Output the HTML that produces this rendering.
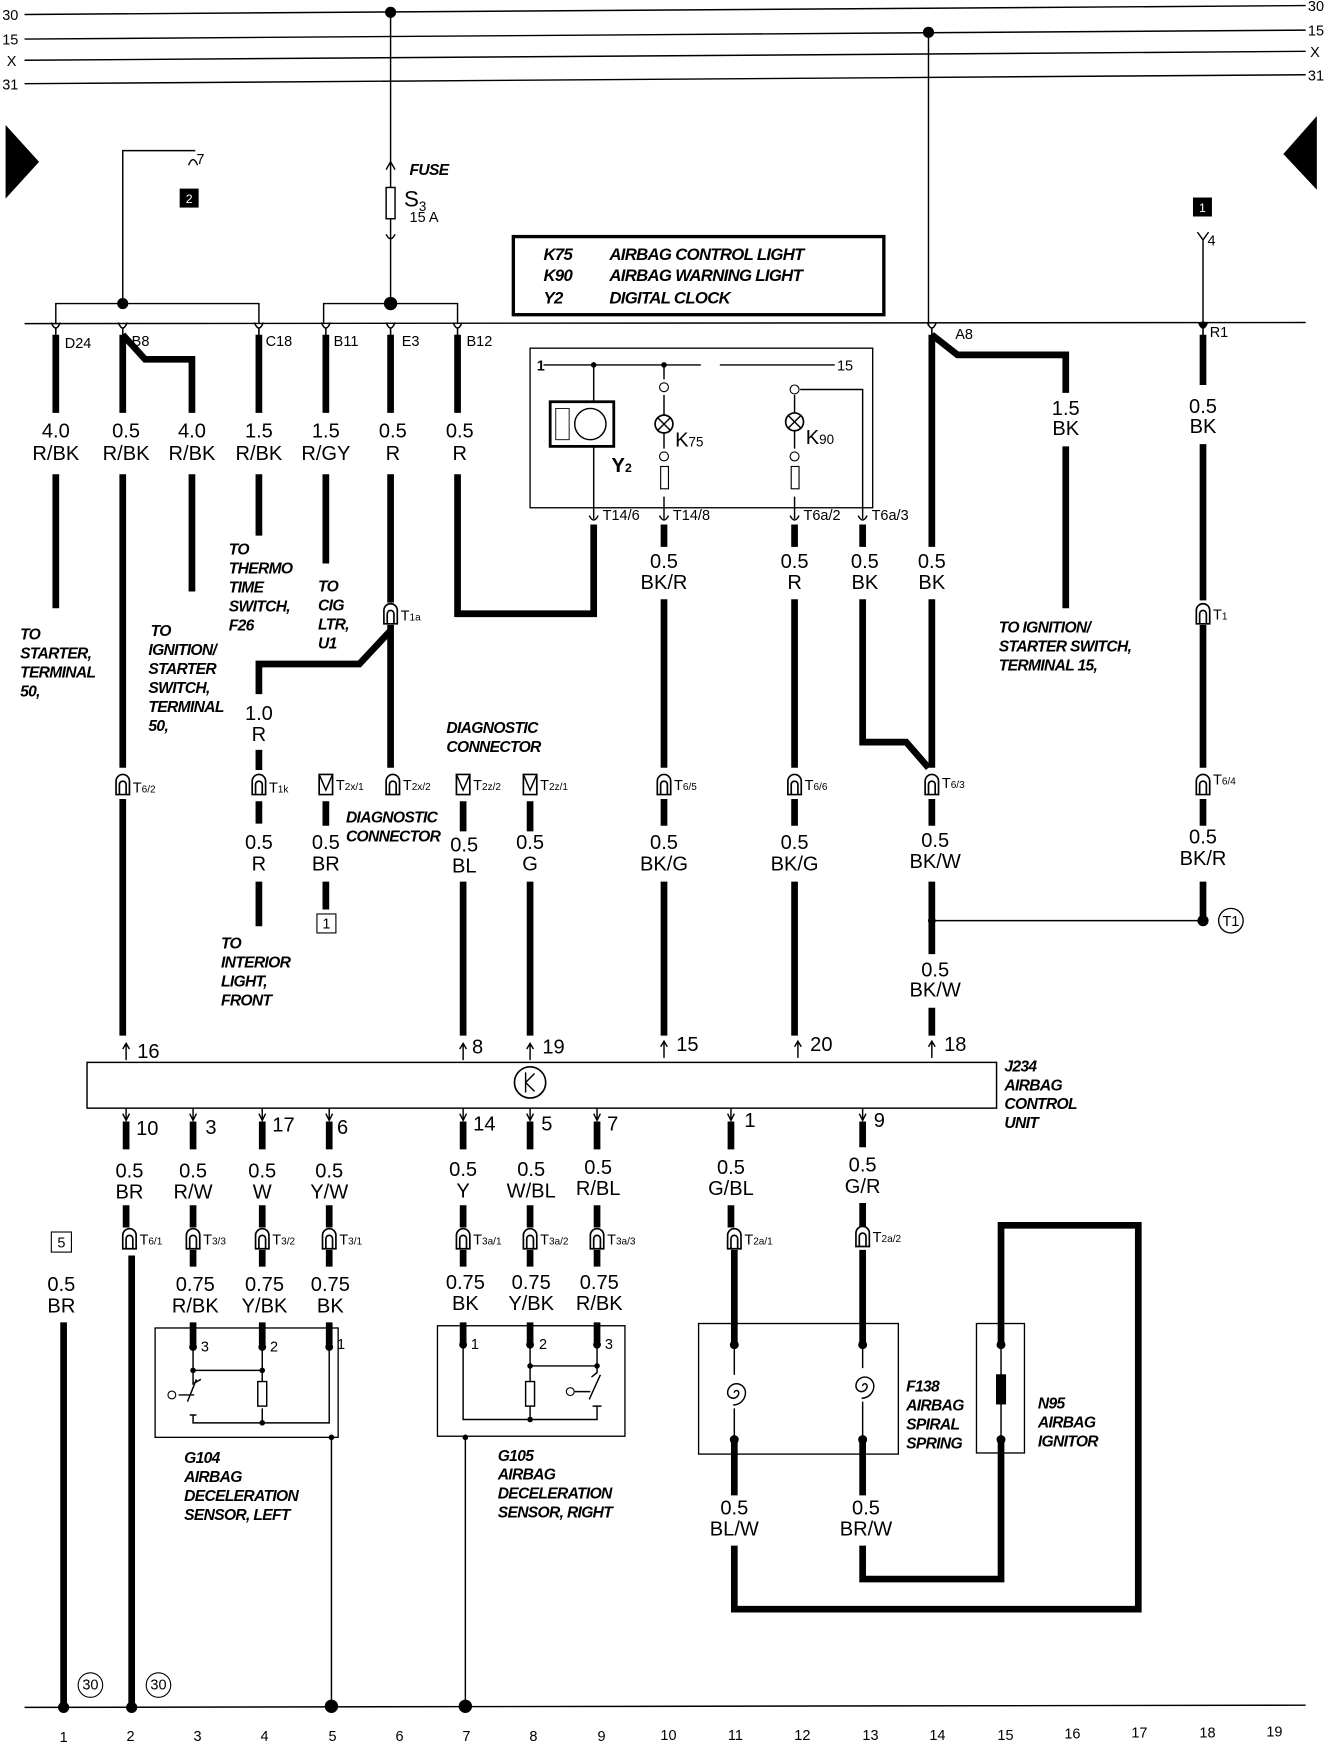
<!DOCTYPE html>
<html><head><meta charset="utf-8"><style>
html,body{margin:0;padding:0;background:#fff}
svg{display:block}
.w{font-family:"Liberation Sans",sans-serif;font-size:18px;text-anchor:middle;fill:#000}
.n{font-family:"Liberation Sans",sans-serif;font-size:14px;font-weight:bold;font-style:italic;fill:#000;letter-spacing:-0.6px}
.s{font-family:"Liberation Sans",sans-serif;font-size:13px;fill:#000}
.k{stroke:#000;stroke-width:6;fill:none}
.t{stroke:#000;stroke-width:1.3;fill:none}
</style></head><body>
<svg width="1328" height="1742" viewBox="0 0 1190 1561" preserveAspectRatio="none" xmlns="http://www.w3.org/2000/svg">
<defs>
<g id="tc"><path d="M-6,9 V-3 A6,6 0 0 1 6,-3 V9 Z" fill="#fff" stroke="#000" stroke-width="1.5"/><path d="M-3,9 V0 A3,3 0 0 1 3,0 V9" fill="none" stroke="#000" stroke-width="1.5"/></g>
<g id="tv"><path d="M-6,-9 V9 H6 V-9 Z" fill="#fff" stroke="#000" stroke-width="1.5"/><path d="M-6,-9 L0,5 L6,-9" fill="none" stroke="#000" stroke-width="1.3"/></g>
<g id="pu"><path d="M-4,-6 Q0,4 4,-6 M0,-1 V6" fill="none" stroke="#000" stroke-width="1.4"/></g>
<g id="ar"><path d="M0,8 V-6 M-3,-2 L0,-7 L3,-2" fill="none" stroke="#000" stroke-width="1.3"/></g>
</defs>
<g class="t" stroke-width="1.6">
<line x1="22" y1="13" x2="1170" y2="5"/>
<line x1="22" y1="35" x2="1170" y2="27"/>
<line x1="22" y1="54" x2="1170" y2="46"/>
<line x1="22" y1="75" x2="1170" y2="67"/>
</g>
<text class="s" x="2" y="18">30</text><text class="s" x="2" y="40">15</text><text class="s" x="6" y="59">X</text><text class="s" x="2" y="80">31</text>
<text class="s" x="1172" y="10">30</text><text class="s" x="1172" y="32">15</text><text class="s" x="1174" y="51">X</text><text class="s" x="1172" y="72">31</text>
<circle cx="350" cy="11" r="5"/><circle cx="832" cy="29" r="5"/>
<path d="M5,112 L35,145 L5,178 Z"/><path d="M1180,104 L1150,138 L1180,170 Z"/>
<line class="t" x1="350" y1="11" x2="350" y2="272"/>
<path d="M346,152 L350,145 L354,152" class="t"/>
<rect x="346" y="168" width="8" height="28" fill="#fff" stroke="#000" stroke-width="1.3"/>
<path d="M346,210 Q350,218 354,210" class="t"/>
<text class="n" x="367" y="157">FUSE</text>
<text x="362" y="185" style="font-family:Liberation Sans;font-size:20px">S<tspan font-size="12" dy="4">3</tspan></text>
<text class="s" x="367" y="199" font-size="11">15 A</text>
<line class="t" x1="832" y1="29" x2="832" y2="292"/>
<path d="M110,272 V135 H175" class="t"/><path d="M169,148 Q173,138 177,148" class="t"/><text class="s" x="176" y="147">7</text>
<rect x="161" y="169" width="17" height="17"/><text x="169.5" y="182" font-size="11" fill="#fff" text-anchor="middle" font-family="Liberation Sans">2</text>
<rect x="1069" y="177" width="17" height="17"/><text x="1077.5" y="190" font-size="11" fill="#fff" text-anchor="middle" font-family="Liberation Sans">1</text>
<path d="M1073,208 L1078,215 L1083,208 M1078,215 V290" class="t"/><text class="s" x="1082" y="220" font-size="11">4</text>
<rect x="460" y="212" width="332" height="70" fill="none" stroke="#000" stroke-width="3"/>
<g class="n" style="font-size:15px">
<text x="487" y="233">K75</text><text x="546" y="233">AIRBAG CONTROL LIGHT</text>
<text x="487" y="252">K90</text><text x="546" y="252">AIRBAG WARNING LIGHT</text>
<text x="487" y="272">Y2</text><text x="546" y="272">DIGITAL CLOCK</text>
</g>
<line class="t" x1="22" y1="290" x2="1170" y2="289"/>
<path d="M50,290 V272 H232 V290 M290,290 V272 H410 V290" class="t"/>
<circle cx="110" cy="272" r="5"/><circle cx="350" cy="272" r="6"/><circle cx="1078" cy="291" r="3"/>
<g>
<use href="#pu" x="50" y="295"/><use href="#pu" x="110" y="295"/><use href="#pu" x="232" y="295"/><use href="#pu" x="292" y="295"/><use href="#pu" x="350" y="295"/><use href="#pu" x="410" y="295"/><use href="#pu" x="835" y="295"/><use href="#pu" x="1078" y="295"/>
</g>
<text class="s" x="58" y="312" font-size="12">D24</text><text class="s" x="118" y="310" font-size="12">B8</text><text class="s" x="238" y="310" font-size="12">C18</text><text class="s" x="299" y="310" font-size="12">B11</text><text class="s" x="360" y="310" font-size="12">E3</text><text class="s" x="418" y="310" font-size="12">B12</text><text class="s" x="856" y="304" font-size="12">A8</text><text class="s" x="1084" y="302" font-size="12">R1</text>
<g class="k">
<path d="M50,300 V370 M50,425 V545"/>
<path d="M110,300 V370 M110,425 V688 M110,716 V928"/>
<path d="M110,300 L130,322 H172 V370 M172,425 V530"/>
<path d="M232,300 V370 M232,425 V480"/>
<path d="M292,300 V370 M292,425 V505"/>
<path d="M350,300 V370 M350,425 V540 M350,560 V688"/>
<path d="M350,565 L322,595 H232 V622 M232,672 V690 M232,718 V738 M232,790 V830"/>
<path d="M292,718 V740 M292,790 V815"/>
<path d="M410,300 V370 M410,425 V550 H532 V470"/>
<path d="M595,470 V490 M595,537 V688 M595,716 V740 M595,790 V928"/>
<path d="M712,470 V490 M712,537 V688 M712,716 V740 M712,790 V928"/>
<path d="M773,470 V490 M773,537 V665 H812 L832,688"/>
<path d="M835,300 V490 M835,537 V688 M835,716 V740 M835,790 V855 M835,903 V928"/>
<path d="M835,300 L858,318 H955 V352 M955,400 V545"/>
<path d="M1078,300 V345 M1078,398 V538 M1078,560 V688 M1078,716 V740 M1078,790 V825"/>
<path d="M415,718 V745 M415,790 V928"/>
<path d="M475,718 V745 M475,790 V928"/>
</g>
<line class="t" x1="835" y1="825" x2="1078" y2="825"/><circle cx="835" cy="825" r="3.5"/><circle cx="1078" cy="825" r="5"/>
<circle cx="1103" cy="825" r="11" fill="#fff" stroke="#000" stroke-width="1.2"/><text class="s" x="1103" y="830" text-anchor="middle" font-size="12">T1</text>
<g class="w">
<text x="50" y="392">4.0</text><text x="50" y="412">R/BK</text>
<text x="113" y="392">0.5</text><text x="113" y="412">R/BK</text>
<text x="172" y="392">4.0</text><text x="172" y="412">R/BK</text>
<text x="232" y="392">1.5</text><text x="232" y="412">R/BK</text>
<text x="292" y="392">1.5</text><text x="292" y="412">R/GY</text>
<text x="352" y="392">0.5</text><text x="352" y="412">R</text>
<text x="412" y="392">0.5</text><text x="412" y="412">R</text>
<text x="595" y="509">0.5</text><text x="595" y="528">BK/R</text>
<text x="712" y="509">0.5</text><text x="712" y="528">R</text>
<text x="775" y="509">0.5</text><text x="775" y="528">BK</text>
<text x="835" y="509">0.5</text><text x="835" y="528">BK</text>
<text x="955" y="372">1.5</text><text x="955" y="390">BK</text>
<text x="1078" y="370">0.5</text><text x="1078" y="388">BK</text>
<text x="232" y="645">1.0</text><text x="232" y="664">R</text>
<text x="232" y="761">0.5</text><text x="232" y="780">R</text>
<text x="292" y="761">0.5</text><text x="292" y="780">BR</text>
<text x="416" y="763">0.5</text><text x="416" y="782">BL</text>
<text x="475" y="761">0.5</text><text x="475" y="780">G</text>
<text x="595" y="761">0.5</text><text x="595" y="780">BK/G</text>
<text x="712" y="761">0.5</text><text x="712" y="780">BK/G</text>
<text x="838" y="759">0.5</text><text x="838" y="778">BK/W</text>
<text x="1078" y="756">0.5</text><text x="1078" y="775">BK/R</text>
<text x="838" y="875">0.5</text><text x="838" y="893">BK/W</text>
</g>
<g class="n">
<text x="18" y="573">TO</text><text x="18" y="590">STARTER,</text><text x="18" y="607">TERMINAL</text><text x="18" y="624">50,</text>
<text x="135" y="570">TO</text><text x="133" y="587">IGNITION/</text><text x="133" y="604">STARTER</text><text x="133" y="621">SWITCH,</text><text x="133" y="638">TERMINAL</text><text x="133" y="655">50,</text>
<text x="205" y="497">TO</text><text x="205" y="514">THERMO</text><text x="205" y="531">TIME</text><text x="205" y="548">SWITCH,</text><text x="205" y="565">F26</text>
<text x="285" y="530">TO</text><text x="285" y="547">CIG</text><text x="285" y="564">LTR,</text><text x="285" y="581">U1</text>
<text x="400" y="657">DIAGNOSTIC</text><text x="400" y="674">CONNECTOR</text>
<text x="310" y="737">DIAGNOSTIC</text><text x="310" y="754">CONNECTOR</text>
<text x="198" y="850">TO</text><text x="198" y="867">INTERIOR</text><text x="198" y="884">LIGHT,</text><text x="198" y="901">FRONT</text>
<text x="895" y="567">TO IGNITION/</text><text x="895" y="584">STARTER SWITCH,</text><text x="895" y="601">TERMINAL 15,</text>
<text x="900" y="960">J234</text><text x="900" y="977">AIRBAG</text><text x="900" y="994">CONTROL</text><text x="900" y="1011">UNIT</text>
<text x="165" y="1311">G104</text><text x="165" y="1328">AIRBAG</text><text x="165" y="1345">DECELERATION</text><text x="165" y="1362">SENSOR, LEFT</text>
<text x="446" y="1309">G105</text><text x="446" y="1326">AIRBAG</text><text x="446" y="1343">DECELERATION</text><text x="446" y="1360">SENSOR, RIGHT</text>
<text x="812" y="1247">F138</text><text x="812" y="1264">AIRBAG</text><text x="812" y="1281">SPIRAL</text><text x="812" y="1298">SPRING</text>
<text x="930" y="1262">N95</text><text x="930" y="1279">AIRBAG</text><text x="930" y="1296">IGNITOR</text>
</g>
<use href="#tc" x="350" y="550"/><text class="s" x="359" y="556">T<tspan font-size="9">1a</tspan></text>
<use href="#tc" x="110" y="703"/><text class="s" x="119" y="710">T<tspan font-size="9">6/2</tspan></text>
<use href="#tc" x="232" y="703"/><text class="s" x="241" y="710">T<tspan font-size="9">1k</tspan></text>
<use href="#tv" x="292" y="703"/><text class="s" x="301" y="708">T<tspan font-size="9">2x/1</tspan></text>
<use href="#tc" x="352" y="703"/><text class="s" x="361" y="708">T<tspan font-size="9">2x/2</tspan></text>
<use href="#tv" x="415" y="703"/><text class="s" x="424" y="708">T<tspan font-size="9">2z/2</tspan></text>
<use href="#tv" x="475" y="703"/><text class="s" x="484" y="708">T<tspan font-size="9">2z/1</tspan></text>
<use href="#tc" x="595" y="703"/><text class="s" x="604" y="708">T<tspan font-size="9">6/5</tspan></text>
<use href="#tc" x="712" y="703"/><text class="s" x="721" y="708">T<tspan font-size="9">6/6</tspan></text>
<use href="#tc" x="835" y="703"/><text class="s" x="844" y="706">T<tspan font-size="9">6/3</tspan></text>
<use href="#tc" x="1078" y="703"/><text class="s" x="1087" y="703">T<tspan font-size="9">6/4</tspan></text>
<use href="#tc" x="1078" y="550"/><text class="s" x="1087" y="555">T<tspan font-size="9">1</tspan></text>
<rect x="284" y="819" width="17" height="17" fill="#fff" stroke="#000"/><text class="s" x="292.5" y="832" text-anchor="middle" font-size="11">1</text>
<rect x="475" y="312" width="307" height="143" fill="none" stroke="#000" stroke-width="1.2"/>
<path d="M487,327 H628 M645,327 H748" class="t" stroke-width="1.8"/>
<text class="s" x="481" y="332" font-weight="bold">1</text><text class="s" x="750" y="332">15</text>
<circle cx="532" cy="327" r="2.5"/><circle cx="595" cy="327" r="2.5"/>
<path d="M532,327 V360 M532,400 V465 M595,327 V340 M595,354 V372 M595,388 V402 M595,445 V465 M712,354 V370 M712,386 V402 M712,445 V465 M717,349 H773 V465" class="t"/>
<rect x="493" y="360" width="57" height="40" fill="#fff" stroke="#000" stroke-width="2.5"/>
<rect x="498" y="366" width="12" height="28" fill="none" stroke="#000" stroke-width="0.8"/><circle cx="529" cy="380" r="14" fill="none" stroke="#000" stroke-width="1.3"/>
<text x="548" y="423" font-family="Liberation Sans" font-size="18" font-weight="bold">Y<tspan font-size="11">2</tspan></text>
<circle cx="595" cy="347" r="4" fill="#fff" stroke="#000"/><circle cx="595" cy="409" r="4" fill="#fff" stroke="#000"/>
<circle cx="595" cy="380" r="8" fill="#fff" stroke="#000" stroke-width="1.5"/><path d="M589,374 L601,386 M601,374 L589,386" class="t"/>
<rect x="592" y="418" width="7" height="20" fill="#fff" stroke="#000"/>
<text x="605" y="400" font-family="Liberation Sans" font-size="18">K<tspan font-size="12">75</tspan></text>
<circle cx="712" cy="349" r="4" fill="#fff" stroke="#000"/><circle cx="712" cy="409" r="4" fill="#fff" stroke="#000"/>
<circle cx="712" cy="378" r="8" fill="#fff" stroke="#000" stroke-width="1.5"/><path d="M706,372 L718,384 M718,372 L706,384" class="t"/>
<rect x="709" y="418" width="7" height="20" fill="#fff" stroke="#000"/>
<text x="722" y="398" font-family="Liberation Sans" font-size="18">K<tspan font-size="12">90</tspan></text>
<path d="M528,462 Q532,470 536,462 M591,462 Q595,470 599,462 M708,462 Q712,470 716,462 M769,462 Q773,470 777,462" class="t"/>
<text class="s" x="540" y="466" font-size="11">T14/6</text><text class="s" x="603" y="466" font-size="11">T14/8</text><text class="s" x="720" y="466" font-size="11">T6a/2</text><text class="s" x="781" y="466" font-size="11">T6a/3</text>
<rect x="78" y="952" width="815" height="41" fill="#fff" stroke="#000" stroke-width="1.3"/>
<circle cx="475" cy="970" r="14" fill="#fff" stroke="#000" stroke-width="1.5"/><path d="M471,961 V979 M471,970 L479,962 M471,970 L479,978" class="t"/>
<g>
<use href="#ar" x="113" y="942"/><use href="#ar" x="415" y="942"/><use href="#ar" x="475" y="942"/><use href="#ar" x="595" y="940"/><use href="#ar" x="715" y="940"/><use href="#ar" x="835" y="940"/>
</g>
<g class="w">
<text x="123" y="948" text-anchor="start">16</text><text x="423" y="944" text-anchor="start">8</text><text x="486" y="944" text-anchor="start">19</text><text x="606" y="942" text-anchor="start">15</text><text x="726" y="942" text-anchor="start">20</text><text x="846" y="942" text-anchor="start">18</text>
</g>
<g class="t">
<path d="M113,993 V1003 M110,998 L113,1004 L116,998"/><path d="M173,993 V1003 M170,998 L173,1004 L176,998"/><path d="M235,993 V1003 M232,998 L235,1004 L238,998"/><path d="M295,993 V1003 M292,998 L295,1004 L298,998"/>
<path d="M415,993 V1003 M412,998 L415,1004 L418,998"/><path d="M475,993 V1003 M472,998 L475,1004 L478,998"/><path d="M535,993 V1003 M532,998 L535,1004 L538,998"/><path d="M655,993 V1003 M652,998 L655,1004 L658,998"/><path d="M773,993 V1003 M770,998 L773,1004 L776,998"/>
</g>
<g class="w">
<text x="122" y="1017" text-anchor="start">10</text><text x="184" y="1016" text-anchor="start">3</text><text x="244" y="1014" text-anchor="start">17</text><text x="302" y="1016" text-anchor="start">6</text><text x="424" y="1013" text-anchor="start">14</text><text x="485" y="1013" text-anchor="start">5</text><text x="544" y="1013" text-anchor="start">7</text><text x="667" y="1010" text-anchor="start">1</text><text x="783" y="1010" text-anchor="start">9</text>
</g>
<g class="k">
<path d="M113,1005 V1030 M113,1080 V1100 M118,1125 V1530"/>
<path d="M173,1005 V1030 M173,1080 V1100 M173,1120 V1135 M173,1185 V1205"/>
<path d="M235,1005 V1030 M235,1080 V1100 M235,1120 V1135 M235,1185 V1205"/>
<path d="M295,1005 V1030 M295,1080 V1100 M295,1120 V1135 M295,1185 V1205"/>
<path d="M415,1005 V1030 M415,1080 V1100 M415,1120 V1135 M415,1185 V1205"/>
<path d="M475,1005 V1030 M475,1080 V1100 M475,1120 V1135 M475,1185 V1205"/>
<path d="M535,1005 V1030 M535,1080 V1100 M535,1120 V1135 M535,1185 V1205"/>
<path d="M655,1005 V1030 M655,1080 V1100 M658,1120 V1205"/>
<path d="M773,1005 V1028 M773,1078 V1100 M773,1120 V1205"/>
<path d="M57,1185 V1530"/>
<path d="M658,1290 V1340 M658,1385 V1442 H1020 V1098 H897 V1205"/>
<path d="M773,1290 V1340 M773,1385 V1415 H897 V1290"/>
</g>
<g class="w">
<text x="116" y="1055">0.5</text><text x="116" y="1074">BR</text>
<text x="173" y="1055">0.5</text><text x="173" y="1074">R/W</text>
<text x="235" y="1055">0.5</text><text x="235" y="1074">W</text>
<text x="295" y="1055">0.5</text><text x="295" y="1074">Y/W</text>
<text x="415" y="1054">0.5</text><text x="415" y="1073">Y</text>
<text x="476" y="1054">0.5</text><text x="476" y="1073">W/BL</text>
<text x="536" y="1052">0.5</text><text x="536" y="1071">R/BL</text>
<text x="655" y="1052">0.5</text><text x="655" y="1071">G/BL</text>
<text x="773" y="1050">0.5</text><text x="773" y="1069">G/R</text>
<text x="55" y="1157">0.5</text><text x="55" y="1176">BR</text>
<text x="175" y="1157">0.75</text><text x="175" y="1176">R/BK</text>
<text x="237" y="1157">0.75</text><text x="237" y="1176">Y/BK</text>
<text x="296" y="1157">0.75</text><text x="296" y="1176">BK</text>
<text x="417" y="1155">0.75</text><text x="417" y="1174">BK</text>
<text x="476" y="1155">0.75</text><text x="476" y="1174">Y/BK</text>
<text x="537" y="1155">0.75</text><text x="537" y="1174">R/BK</text>
<text x="658" y="1357">0.5</text><text x="658" y="1376">BL/W</text>
<text x="776" y="1357">0.5</text><text x="776" y="1376">BR/W</text>
</g>
<rect x="46" y="1104" width="18" height="18" fill="#fff" stroke="#000"/><text class="s" x="55" y="1118" text-anchor="middle" font-size="11">5</text>
<use href="#tc" x="116" y="1110"/><text class="s" x="125" y="1115">T<tspan font-size="9">6/1</tspan></text>
<use href="#tc" x="173" y="1110"/><text class="s" x="182" y="1115">T<tspan font-size="9">3/3</tspan></text>
<use href="#tc" x="235" y="1110"/><text class="s" x="244" y="1115">T<tspan font-size="9">3/2</tspan></text>
<use href="#tc" x="295" y="1110"/><text class="s" x="304" y="1115">T<tspan font-size="9">3/1</tspan></text>
<use href="#tc" x="415" y="1110"/><text class="s" x="424" y="1115">T<tspan font-size="9">3a/1</tspan></text>
<use href="#tc" x="475" y="1110"/><text class="s" x="484" y="1115">T<tspan font-size="9">3a/2</tspan></text>
<use href="#tc" x="535" y="1110"/><text class="s" x="544" y="1115">T<tspan font-size="9">3a/3</tspan></text>
<use href="#tc" x="658" y="1110"/><text class="s" x="667" y="1115">T<tspan font-size="9">2a/1</tspan></text>
<use href="#tc" x="773" y="1108"/><text class="s" x="782" y="1113">T<tspan font-size="9">2a/2</tspan></text>
<rect x="139" y="1190" width="164" height="98" fill="none" stroke="#000" stroke-width="1.2"/>
<circle cx="173" cy="1207" r="3.5"/><circle cx="235" cy="1207" r="3.5"/><circle cx="295" cy="1207" r="3.5"/>
<text class="s" x="180" y="1211" font-size="11">3</text><text class="s" x="242" y="1211" font-size="11">2</text><text class="s" x="302" y="1209" font-size="11">1</text>
<path d="M173,1207 V1228 H235 V1238 M235,1262 V1275 H173 V1268 M170,1268 H176 M295,1207 V1275 H235 M173,1228 V1240 L180,1236 M176,1236 L168,1256 M160,1250 L174,1250 M235,1207 V1228 M297,1288 V1530" class="t"/>
<circle cx="173" cy="1228" r="2.5"/><circle cx="235" cy="1228" r="2.5"/><circle cx="235" cy="1275" r="2.5"/><circle cx="297" cy="1288" r="2.5"/>
<circle cx="154" cy="1250" r="3.5" fill="#fff" stroke="#000"/>
<rect x="231" y="1238" width="8" height="22" fill="#fff" stroke="#000" stroke-width="1.3"/>
<rect x="392" y="1188" width="168" height="99" fill="none" stroke="#000" stroke-width="1.2"/>
<circle cx="415" cy="1205" r="3.5"/><circle cx="475" cy="1205" r="3.5"/><circle cx="535" cy="1205" r="3.5"/>
<text class="s" x="422" y="1209" font-size="11">1</text><text class="s" x="483" y="1209" font-size="11">2</text><text class="s" x="542" y="1209" font-size="11">3</text>
<path d="M415,1205 V1272 H535 V1260 M531,1260 H539 M475,1205 V1238 M475,1260 V1272 M475,1224 H535 M535,1205 V1230 L530,1234 M538,1232 L528,1254 M515,1247 L529,1247 M417,1287 V1530" class="t"/>
<circle cx="475" cy="1224" r="2.5"/><circle cx="535" cy="1224" r="2.5"/><circle cx="475" cy="1272" r="2.5"/><circle cx="417" cy="1288" r="2.5"/>
<circle cx="511" cy="1247" r="3.5" fill="#fff" stroke="#000"/>
<rect x="471" y="1238" width="8" height="22" fill="#fff" stroke="#000" stroke-width="1.3"/>
<rect x="626" y="1186" width="179" height="117" fill="none" stroke="#000" stroke-width="1.2"/>
<rect x="875" y="1186" width="43" height="116" fill="none" stroke="#000" stroke-width="1.2"/>
<path d="M658,1205 V1232 M658,1262 V1290 M773,1205 V1226 M773,1256 V1290 M897,1205 V1290" class="t"/>
<circle cx="658" cy="1205" r="4"/><circle cx="658" cy="1290" r="4"/><circle cx="773" cy="1205" r="4"/><circle cx="773" cy="1290" r="4"/><circle cx="897" cy="1205" r="4"/><circle cx="897" cy="1290" r="4"/>
<path d="M658,1248 m0,0 a2,2 0 0 1 4,0 a5,5 0 0 1 -10,0 a8,8 0 0 1 16,0 a11,11 0 0 1 -11,11" class="t" stroke-width="2.5"/>
<path d="M773,1242 m0,0 a2,2 0 0 1 4,0 a5,5 0 0 1 -10,0 a8,8 0 0 1 16,0 a11,11 0 0 1 -11,11" class="t" stroke-width="2.5"/>
<rect x="893" y="1232" width="8" height="26" stroke="#000" fill="#000"/>
<line class="t" x1="22" y1="1530" x2="1170" y2="1528" stroke-width="1.6"/>
<circle cx="57" cy="1530" r="5"/><circle cx="118" cy="1530" r="5"/><circle cx="297" cy="1529" r="6"/><circle cx="417" cy="1529" r="6"/>
<circle cx="81" cy="1510" r="11" fill="#fff" stroke="#000"/><text class="s" x="81" y="1514" text-anchor="middle" font-size="11">30</text>
<circle cx="142" cy="1510" r="11" fill="#fff" stroke="#000"/><text class="s" x="142" y="1514" text-anchor="middle" font-size="11">30</text>
<g class="s" text-anchor="middle" font-size="12">
<text x="57" y="1561">1</text><text x="117" y="1560">2</text><text x="177" y="1560">3</text><text x="237" y="1560">4</text><text x="298" y="1560">5</text><text x="358" y="1560">6</text><text x="418" y="1560">7</text><text x="478" y="1560">8</text><text x="539" y="1560">9</text><text x="599" y="1559">10</text><text x="659" y="1559">11</text><text x="719" y="1559">12</text><text x="780" y="1559">13</text><text x="840" y="1559">14</text><text x="901" y="1559">15</text><text x="961" y="1558">16</text><text x="1021" y="1557">17</text><text x="1082" y="1557">18</text><text x="1142" y="1556">19</text>
</g>
</svg>
</body></html>
